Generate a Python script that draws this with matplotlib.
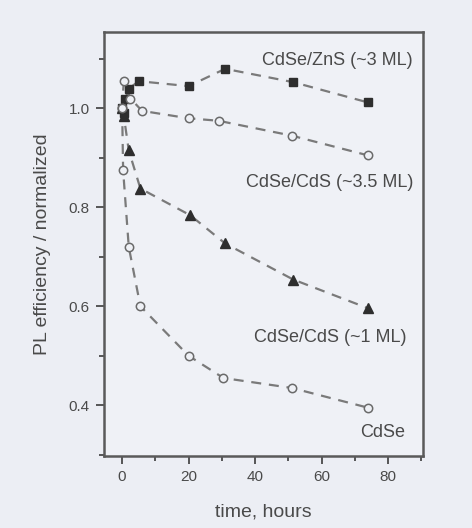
import matplotlib
matplotlib.use("Agg")
import matplotlib.pyplot as plt
from matplotlib.ticker import MultipleLocator

plt.rcParams["font.family"] = ["Liberation Sans", "DejaVu Sans"]

# data (time in hours, normalized PL efficiency)
t_zns = [0, 0.5, 1, 2, 5, 20, 31, 51.5, 74]
pl_zns = [1.0, 0.99, 1.02, 1.04, 1.055, 1.045, 1.08, 1.053, 1.012]

t_cds35 = [0, 0.5, 2.5, 6, 20, 29, 51, 74]
pl_cds35 = [1.0, 1.055, 1.02, 0.995, 0.98, 0.975, 0.945, 0.905]

t_cds1 = [0, 0.5, 2, 5.5, 20.5, 31, 51.5, 74]
pl_cds1 = [1.0, 0.985, 0.915, 0.838, 0.784, 0.727, 0.654, 0.596]

t_cdse = [0, 0.3, 2, 5.5, 20, 30.5, 51, 74]
pl_cdse = [1.0, 0.875, 0.72, 0.60, 0.50, 0.455, 0.435, 0.395]

labels = ["CdSe/ZnS (~3 ML)", "CdSe/CdS (~3.5 ML)", "CdSe/CdS (~1 ML)", "CdSe"]

bg = "#eceef4"
ink = "#4a4a4a"
line_c = "#7a7a7a"

fig = plt.figure(figsize=(4.72, 5.28), dpi=100, facecolor=bg)
ax = fig.add_axes([0.220, 0.136, 0.676, 0.803], facecolor="#eff1f6")

dash = dict(color=line_c, lw=1.6, ls=(0, (4.5, 3.5)), zorder=1)
ax.plot(t_zns, pl_zns, **dash)
ax.plot(t_cds35, pl_cds35, **dash)
ax.plot(t_cds1, pl_cds1, **dash)
ax.plot(t_cdse, pl_cdse, **dash)

ax.plot(t_zns, pl_zns, "s", ms=5.5, color="#2e2e2e", ls="none", zorder=3)
ax.plot(t_cds35, pl_cds35, "o", ms=6, mfc="#eff1f6", mec="#6a6a6a", mew=1.1, ls="none", zorder=3)
ax.plot(t_cds1, pl_cds1, "^", ms=6.5, color="#2e2e2e", ls="none", zorder=3)
ax.plot(t_cdse, pl_cdse, "o", ms=6, mfc="#eff1f6", mec="#6a6a6a", mew=1.1, ls="none", zorder=3)

ax.set_xlim(-5.5, 90.5)
ax.set_ylim(0.297, 1.154)
ax.xaxis.set_major_locator(MultipleLocator(20))
ax.xaxis.set_minor_locator(MultipleLocator(10))
ax.yaxis.set_major_locator(MultipleLocator(0.2))
ax.yaxis.set_minor_locator(MultipleLocator(0.1))
ax.yaxis.set_major_formatter(matplotlib.ticker.FormatStrFormatter("%.1f"))

ax.tick_params(which="both", direction="out", colors=ink, labelcolor=ink, width=1.3)
ax.tick_params(which="major", length=6, labelsize=11, pad=4)
ax.tick_params(which="minor", length=3.5)
for s in ax.spines.values():
    s.set_color("#5a5a5a")
    s.set_linewidth(1.8)

ax.set_xlabel("time, hours", fontsize=14, color=ink, labelpad=14)
ax.set_ylabel("PL efficiency / normalized", fontsize=14, color=ink, labelpad=13)

txt = dict(fontsize=13, color=ink, ha="right", va="center")
ax.text(87.5, 1.097, labels[0], **txt)
ax.text(87.5, 0.850, labels[1], **txt)
ax.text(85.5, 0.537, labels[2], **txt)
ax.text(85, 0.345, labels[3], **txt)

fig.savefig("out.png", dpi=100, facecolor=bg)
